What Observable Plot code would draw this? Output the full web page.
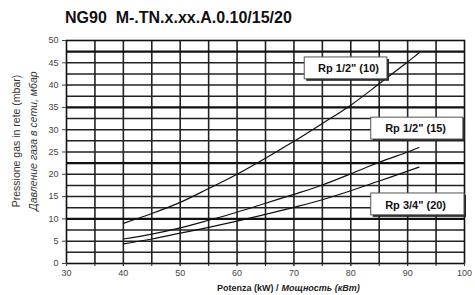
<!DOCTYPE html>
<html><head><meta charset="utf-8">
<script src="https://cdn.jsdelivr.net/npm/d3@7"></script>
<script src="https://cdn.jsdelivr.net/npm/@observablehq/plot@0.6"></script>
<style>
body{margin:0;background:#fff;font-family:"Liberation Sans",Arial,sans-serif;}
#title{height:30px;box-sizing:border-box;padding-left:65px;padding-top:9px;font-weight:bold;font-size:16px;line-height:18px;color:#111;white-space:pre;}
#chart svg{display:block;}
</style></head><body>
<div id="title">NG90  M-.TN.x.xx.A.0.10/15/20</div>
<div id="chart"></div>
<script>
// Data
const power = [40, 45, 50, 55, 60, 65, 70, 75, 80, 85, 90, 92];
const pressure10 = [9.0, 11.2, 13.7, 16.8, 20.0, 23.6, 27.4, 31.4, 35.5, 40.3, 45.2, 47.2];
const pressure15 = [5.5, 6.6, 8.0, 9.7, 11.5, 13.5, 15.5, 17.6, 20.1, 22.7, 25.0, 26.0];
const pressure20 = [4.4, 5.5, 6.8, 8.1, 9.5, 11.0, 12.6, 14.3, 16.3, 18.5, 20.7, 21.6];
const seriesNames = ['Rp 1/2" (10)', 'Rp 1/2" (15)', 'Rp 3/4" (20)'];
const xTicks = [30, 40, 50, 60, 70, 80, 90, 100];
const yTicks = [0, 5, 10, 15, 20, 25, 30, 35, 40, 45, 50];
const xGrid = [35, 40, 45, 50, 55, 60, 65, 70, 75, 80, 85, 90, 95];
const yGridThin = [2.5, 5, 7.5, 12.5, 15, 17.5, 20, 25, 27.5, 30, 32.5, 37.5, 40, 42.5, 45];
const yGridThick = [10, 22.5, 35, 47.5];
// label boxes (data units)
const labelX = [79.6, 91.4, 91.4];
const labelY = [43.8, 30.3, 13.0];
const boxX1 = [71.9, 83.6, 83.6];
const boxX2 = [86.45, 99.8, 100];
const boxY1 = [41.3, 27.8, 10.8];
const boxY2 = [46.2, 32.7, 15.7];

const allSeries = [pressure10, pressure15, pressure20];
const rows = allSeries.flatMap((vals, s) => power.map((p, i) => ({series: seriesNames[s], x: p, y: vals[i]})));
const boxes = seriesNames.map((n, i) => ({name: n, x1: boxX1[i], x2: boxX2[i], y1: boxY1[i], y2: boxY2[i], lx: labelX[i], ly: labelY[i]}));

const chart = Plot.plot({
  width: 475,
  height: 265,
  marginTop: 10,
  marginBottom: 32,
  marginLeft: 66,
  marginRight: 11,
  style: {fontFamily: '"Liberation Sans", Arial, sans-serif', background: "#fff"},
  x: {domain: [30, 100]},
  y: {domain: [0, 50]},
  marks: [
    Plot.ruleX(xGrid, {stroke: "#222", strokeWidth: 1.6}),
    Plot.ruleY(yGridThin, {stroke: "#222", strokeWidth: 1.5}),
    Plot.ruleY(yGridThick, {stroke: "#111", strokeWidth: 2.3}),
    Plot.frame({stroke: "#111", strokeWidth: 1.6}),
    Plot.axisX({ticks: xTicks, tickSize: 3, tickPadding: 3, fontSize: 9, color: "#444", label: null}),
    Plot.axisX({ticks: xGrid, tickSize: 3, text: null, label: null, stroke: "#222"}),
    Plot.axisY({ticks: yTicks, tickSize: 4, tickPadding: 4, fontSize: 9, color: "#444", label: null}),
    Plot.line(rows, {x: "x", y: "y", z: "series", stroke: "#111", strokeWidth: 1.2, curve: "catmull-rom"}),
    Plot.rect(boxes, {x1: "x1", x2: "x2", y1: "y1", y2: "y2", fill: "#222", dx: 2, dy: 2}),
    Plot.rect(boxes, {x1: "x1", x2: "x2", y1: "y1", y2: "y2", fill: "#fff", stroke: "#555", strokeWidth: 1}),
    Plot.text(boxes, {x: "lx", y: "ly", text: "name", fontSize: 11, fontWeight: "bold", fill: "#111"}),
    Plot.text(["Pressione gas in rete (mbar)"], {frameAnchor: "left", textAnchor: "middle", rotate: -90, dx: -50, dy: -11, fontSize: 10.5, fill: "#333"}),
    Plot.text(["Давление газа в сети, мбар"], {frameAnchor: "left", textAnchor: "middle", rotate: -90, dx: -33, dy: -11, fontSize: 10.5, fontStyle: "italic", fill: "#333"}),
    Plot.text(["Potenza (kW) /"], {frameAnchor: "bottom", textAnchor: "end", dx: 13, dy: 27, fontSize: 9, fontWeight: "bold", fill: "#222"}),
    Plot.text(["Мощность (кВт)"], {frameAnchor: "bottom", textAnchor: "start", dx: 16, dy: 27, fontSize: 9, fontWeight: "bold", fontStyle: "italic", fill: "#222"})
  ]
});
document.getElementById("chart").appendChild(chart);
</script>
</body></html>
